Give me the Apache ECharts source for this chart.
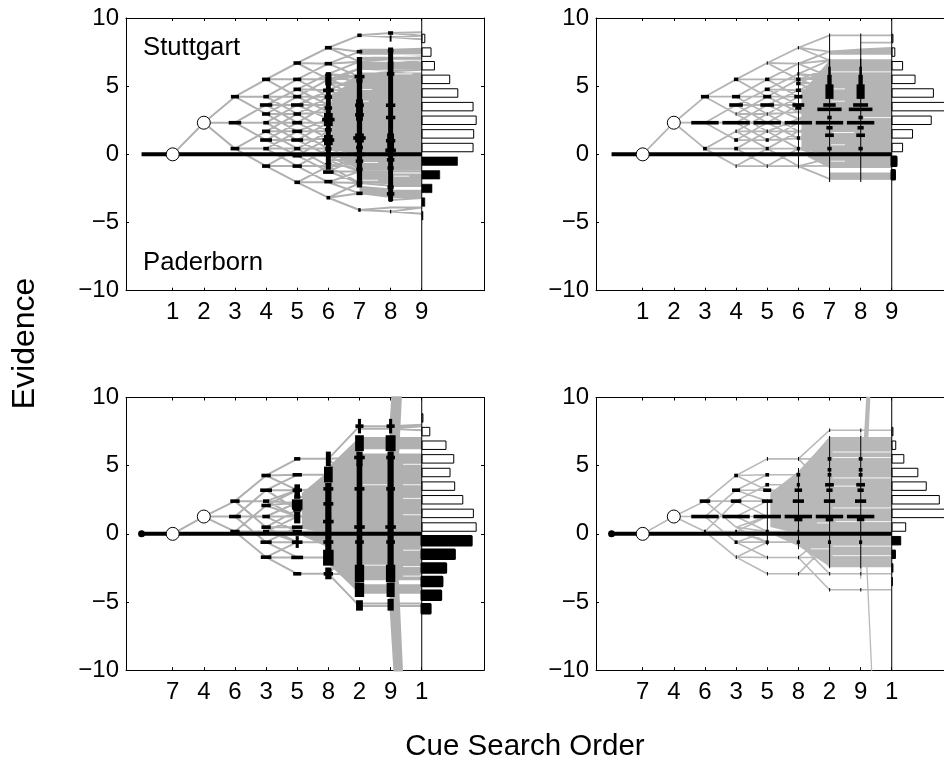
<!DOCTYPE html>
<html><head><meta charset="utf-8">
<style>html,body{margin:0;padding:0;background:#fff;overflow:hidden}#c{width:944px;height:762px}</style>
<script src="https://cdn.jsdelivr.net/npm/echarts@6/dist/echarts.min.js"></script>
</head><body><div id="c"></div>
<script>
const topTicks = ['1','2','3','4','5','6','7','8','9'];
const bottomTicks = ['7','4','6','3','5','8','2','9','1'];
const yTicks = [-10,-5,0,5,10];

// cue shift between successive columns (index = from-column)
const topShifts = [0,2.32,1.9,1.28,1.2,1.15,0.9,0.2,0.15];
const bottomShifts = [0,1.27,1.13,1.9,1.2,0.1,2.4,0.1,0.1];

// evidence levels per search column (1..9)
const tlLevels = [[0],[2.32],[4.23,2.32,.42],
 [5.5,4.23,3.62,2.96,2.32,1.69,1.05,.42,-.86],
 [6.7,5.5,4.77,4.23,3.62,2.96,2.32,1.69,1.05,.42,-.1,-.86,-2.05],
 [7.82,6.65,5.9,5.5,5.2,4.7,4.23,3.62,3.1,2.6,2.32,1.69,1.17,.42,-.1,-.45,-.86,-1.25,-2.05,-3.18],
 [8.73,7.53,6.8,6.3,5.7,5.2,4.7,4.23,3.62,3,2.32,1.69,1.1,.42,-.3,-.7,-1.25,-2.1,-2.86,-4.08],
 [8.9,8.6,7.65,7.4,7,6.6,6.1,5.7,5.2,4.7,4.23,3.62,3,2.32,1.69,1.1,.42,-.3,-.7,-1.25,-1.9,-2.3,-2.9,-3.35,-3.9,-4.2],
 [8.95,8.7,8.45,7.75,7.5,7.3,7.1,6.9,6.6,6.2,5.7,5.2,4.7,4.23,3.62,3,2.32,1.69,1.1,.42,-.3,-.7,-1.25,-1.9,-2.3,-2.9,-3.2,-3.9,-4.35]];
const trLevels = [[0],[2.32],[4.23,2.32,.42],
 [5.5,4.23,3.62,2.96,2.32,1.69,1.05,.42,-.86],
 [6.7,5.5,4.77,4.23,3.62,2.96,2.32,1.69,1.05,.42,-.86],
 [7.82,6.65,5.9,5.5,5.2,4.7,4.23,3.62,3.1,2.6,2.32,1.69,1.17,.42,-.86],
 [8.73,7.53,6.9,6.3,5.7,5.2,4.7,4.23,3.62,3,2.32,1.69,1.1,.42,-.3,-.85,-1.4,-1.8],
 [8.73,8.2,7.7,7.45,6.9,6.3,5.7,5.2,4.7,4.23,3.62,3,2.32,1.69,1.1,.42,-.3,-.85,-1.4,-1.8],
 [8.73,8.2,7.8,7.5,6.9,6.3,5.7,5.2,4.7,4.23,3.62,3,2.32,1.69,1.1,.42,-.3,-.85,-1.4,-1.8]];
const blLevels = [[0],[1.27],[2.4,1.27,.17],
 [4.28,3.2,2.4,2.08,1.27,.49,.17,-.61,-1.71],
 [5.5,4.33,3.2,2.7,2.3,1.76,1.27,.49,.17,-.61,-1.73,-2.93],
 [5.5,4.33,3.3,2.7,2.2,1.7,1.27,.5,.17,-.6,-1,-1.73,-2.93],
 [7.9,7.7,6.7,6.4,5.6,4.9,4.3,3.3,2.7,1.7,1.2,.5,-.2,-.6,-1,-1.7,-2.3,-3,-4.1,-5.3,-5.1],
 [7.9,7.7,6.7,6.4,5.6,4.9,4.3,3.3,2.7,1.7,1.2,.5,-.2,-.6,-1,-1.7,-2.3,-3,-4.1,-5.3,-5.1],
 [8,7.9,7.6,6.7,6.4,5.6,4.9,4.3,3.3,2.7,1.7,1.2,.5,-.2,-.6,-1,-1.7,-2.3,-3,-4.1,-5.3,-5.1]];
const brLevels = [[0],[1.27],[2.4,1.27,.17],
 [4.28,3.2,2.4,1.27,.49,.17,-.61,-1.71],
 [5.5,4.33,3.6,3.2,2.4,1.27,.17,-.61,-1.73,-2.93],
 [5.5,4.33,3.6,3.2,2.4,1.27,.17,-.61,-1.73,-2.93],
 [7.6,7.05,6.2,5.5,4.33,3.6,3.2,2.4,1.27,.17,-.61,-1.73,-2.4,-2.93,-4.1],
 [7.6,7.05,6.2,5.5,4.33,3.6,3.2,2.4,1.27,.17,-.61,-1.73,-2.4,-2.93,-4.1],
 [7.6,7.05,6.2,5.5,4.33,3.6,3.2,2.4,1.27,.17,-.61,-1.73,-2.4,-2.93,-4.1]];

// cues at column 8 with a decisive jump (sources of lines to +/-jumpSize)
const jumpSize = 42;
const blJumpUp = [-5.3,-4.9,-4.5,-4.1,-3.7,-3.3,-2.9,-2.5,-2.1,-1.7,-1.3,-.9,-.5,-.1,.3,.7,1.1,1.5,1.9,2.3,2.7,3.1,3.5,3.9,4.3,4.7,5.1,5.5,5.9,6.3,6.7,7.1,7.5,7.9];
const blJumpDown = blJumpUp;
const trJump = [];
const brJumpUp = [-3.3,-2.7,-2.1,-1.5,-.9,-.3,.3,.9,1.5,2];
const brJumpDown = [7.55];

// solid grey regions: from-column, top, bottom, to-column, top, bottom
const tlFill = [[6.1,4.2,.3,7,5.9,0],[7,6,0,9,6,0],[7,7.75,7.3,9,7.75,7.3],[7,7.15,6.9,9,7.15,6.9],[7,6.8,6.2,9,6.8,6.2],
 [6.3,-.1,-.2,7,0,-1.2],[7,0,-1.2,9,0,-1.2],[7,-1.3,-2.1,8,-1.3,-2.2],[8,-1.4,-2.4,9,-1.4,-2.4],[8,-2.6,-3.2,9,-2.6,-3.2],[7,-2.3,-2.9,8,-2.5,-3.2]];
const trFill = [[6.1,4.5,.3,7,6.9,0],[7,6.9,0,9,6.9,0],[7,7.6,7.3,9,7.8,7.3],[6.3,-.1,-.2,7,0,-1],[7,0,-1,9,0,-1],[7,-1.45,-1.85,9,-1.45,-1.85]];
const blFill = [[5.15,3,.4,6,4.6,0],[5.2,-.1,-.2,6,0,-1],[6,4.9,-2.2,7,7.1,-4.4],[7,7.1,6.2,9,7.1,6.2],[7,5.9,-3.4,9,5.9,-3.4],[7,-3.7,-4.4,9,-3.7,-4.4]];
const brFill = [[5.1,3,.5,6,4.6,0],[6,4.6,0,7,7.05,0],[7,7.05,0,9,7.05,0],[5.3,-.1,-.2,6,0,-.9],[6,0,-.9,7,0,-2.4],[7,0,-2.4,9,0,-2.4]];

// thin light streaks left between the grey lines: from-column, to-column, level
const tlSlits = [[7.05,7.4,7.2],[7.05,7.4,6.13],[7.05,7.4,4.76],[7.05,7.3,3.9],[8.1,9,7.3],[8.1,9,6.9],[7.05,8,6.13],[8.1,8.7,5.9],[7.1,7.6,-.6],[7.1,7.6,-1.9],[8.1,8.6,-1.6],[8.1,8.7,-2.5]];
const trSlits = [[7.05,9,6.05],[7.05,7.5,4.8],[7.05,7.5,3.9],[8.1,9,2.7],[7.1,7.8,1.6],[7.05,7.5,.7],[7.05,7.5,-.5]];
const blSlits = [[7.1,7.9,6],[8.4,9,5.1],[8.4,9,3.6],[7.1,7.9,3.6],[8.4,9,2.6],[8.4,9,1.4],[7.1,7.9,-2.3],[8.4,9,-1.2],[8.4,9,-2.4],[8.4,9,-3.1]];
const brSlits = [[7.1,9,6],[7.1,9,5.6],[7.1,9,4.1],[7.1,8,3.5],[7.1,9,1.9],[6.6,7,.8],[7.2,9,.9],[6.4,7,-1.1],[7.1,9,-.9],[7.1,9,-1.6]];

// node shares: column, y top, y bottom, half width in column units
const tlMarks = [[3,4.23,4.23,.13],[3,2.32,2.32,.2],[3,.42,.42,.14],
 [4,5.5,5.5,.13],[4,4.23,4.23,.09],[4,3.62,3.62,.2],[4,2.96,2.96,.13],[4,2.32,2.32,.09],[4,1.69,1.69,.13],[4,1.05,1.05,.19],[4,.42,.42,.09],[4,-.86,-.86,.13],
 [5,6.7,6.7,.12],[5,5.5,5.5,.13],[5,4.77,4.77,.12],[5,4.23,4.23,.13],[5,3.62,3.62,.2],[5,2.96,2.96,.12],[5,2.32,2.32,.16],[5,1.69,1.69,.16],[5,1.05,1.05,.19],[5,.42,.42,.1],[5,-.1,-.1,.15],[5,-.86,-.86,.15],[5,-2.05,-2.05,.09],
 [6,7.82,7.82,.11],[6,6.65,6.65,.12],[6,5.9,-1,.08],[6,5.8,5.2,.1],[6,4.7,4.7,.17],[6,4.2,4.2,.12],[6,3.4,3.4,.12],[6,2.9,2.2,.14],[6,2.55,2.55,.2],[6,1.8,1.8,.11],[6,1.3,.8,.14],[6,1.05,1.05,.19],[6,.4,.4,.1],[6,0,0,.14],[6,-.85,-.5,.1],[6,-1.3,-1.3,.17],[6,-2,-2,.13],[6,-3.18,-3.18,.06],
 [7,8.73,8.73,.07],[7,7.53,7.53,.09],[7,7,-2.3,.085],[7,5.7,5.7,.16],[7,5.4,5.4,.1],[7,3.9,2.6,.11],[7,3.6,3.6,.14],[7,2.9,2.9,.14],[7,1.4,1,.14],[7,1.2,1.2,.2],[7,.5,.5,.11],[7,0,0,.16],[7,-.5,-.5,.12],[7,-1.1,-1.1,.1],[7,-2.1,-2.1,.09],[7,-2.86,-2.86,.1],[7,-4.08,-4.08,.04],
 [8,8.9,8.9,.08],[8,8.6,8.4,.03],[8,7.7,-3.3,.08],[8,7.6,7.6,.09],[8,6.7,6.2,.09],[8,5.9,5.9,.12],[8,3.6,3.6,.15],[8,2.7,2.7,.15],[8,1.4,.4,.11],[8,1,1,.15],[8,.3,.3,.17],[8,0,0,.17],[8,-.4,-.4,.12],[8,-1,-1,.1],[8,-2.4,-2.4,.1],[8,-2.9,-2.9,.12],[8,-3.35,-3.35,.05],[8,-4.2,-4.2,.02]];
const trMarks = [[3,4.23,4.23,.13],[3,2.32,2.32,.44],[3,.42,.42,.06],
 [4,5.5,5.5,.07],[4,4.23,4.23,.13],[4,3.62,3.62,.22],[4,2.96,2.96,.015],[4,2.32,2.32,.44],[4,1.69,1.69,.02],[4,1.05,1.05,.06],[4,.42,.42,.06],[4,-.86,-.86,.015],
 [5,6.7,6.7,.015],[5,5.5,5.5,.07],[5,4.77,4.77,.08],[5,4.23,4.23,.13],[5,3.62,3.62,.22],[5,2.96,2.96,.015],[5,2.32,2.32,.44],[5,1.69,1.69,.02],[5,1.05,1.05,.05],[5,.42,.42,.05],[5,-.86,-.86,.015],
 [6,7.82,7.82,.015],[6,6.65,-.9,.012],[6,5.9,5.9,.03],[6,5.5,5.5,.07],[6,5.2,5.2,.07],[6,4.7,4.7,.08],[6,4.23,4.23,.13],[6,3.62,3.62,.19],[6,3.4,3.4,.1],[6,2.32,2.32,.44],[6,1.2,1.2,.05],[6,.42,.42,.05],
 [7,8.73,-1.9,.012],[7,6.9,6.3,.02],[7,6.3,5.7,.04],[7,5.7,5,.07],[7,5,4.2,.13],[7,3.62,3.62,.2],[7,3.3,3.3,.39],[7,2.7,2.7,.07],[7,2.32,2.32,.44],[7,1.95,1.95,.1],[7,1.4,1.4,.14],[7,.42,.42,.07],
 [8,8.73,-1.9,.012],[8,6.9,6.3,.02],[8,6.3,5.7,.04],[8,5.7,5,.07],[8,5,4.2,.13],[8,3.62,3.62,.24],[8,3.3,3.3,.38],[8,2.7,2.7,.07],[8,2.32,2.32,.44],[8,1.95,1.95,.1],[8,1.4,1.4,.14],[8,.42,.42,.07]];
const blMarks = [[3,2.4,2.4,.15],[3,1.27,1.27,.19],[3,.17,.17,.15],
 [4,4.28,4.28,.15],[4,3.2,3.2,.19],[4,2.4,2.4,.1],[4,2.08,2.08,.15],[4,1.27,1.27,.12],[4,.49,.49,.15],[4,.17,.17,.1],[4,-.61,-.61,.18],[4,-1.71,-1.71,.17],
 [5,5.5,5.5,.1],[5,4.33,4.33,.15],[5,3.5,2.9,.09],[5,3.2,3.2,.15],[5,2.7,2.7,.1],[5,2.4,1.9,.17],[5,1.76,1.76,.13],[5,1.5,.9,.1],[5,.49,.49,.17],[5,.17,.17,.15],[5,-.3,-.9,.05],[5,-.61,-.61,.17],[5,-1.73,-1.73,.19],[5,-2.93,-2.93,.13],
 [6,5.9,5.1,.08],[6,4.8,3.9,.14],[6,3.6,-1.1,.1],[6,3.3,3.3,.16],[6,2.2,2.2,.16],[6,.9,.9,.17],[6,-.6,-.6,.16],[6,-1.3,-2.2,.17],[6,-2.6,-3.2,.1],[6,-2.93,-2.93,.15],
 [7,8.3,7.5,.05],[7,7.9,7.9,.13],[7,7.1,6.2,.14],[7,5.9,5.1,.1],[7,5.6,5.6,.17],[7,5,-3.2,.09],[7,3.3,3.3,.16],[7,.5,.5,.17],[7,-.6,-.6,.14],[7,-2.4,-3.4,.15],[7,-3.7,-4.5,.15],[7,-5,-5.5,.11],
 [8,8.3,7.5,.05],[8,7.9,7.9,.13],[8,7.1,6.2,.16],[8,5.9,-3.2,.1],[8,5.6,5.6,.14],[8,3.3,3.3,.14],[8,.5,.5,.17],[8,-.6,-.6,.14],[8,-2.4,-3.4,.15],[8,-3.7,-4.5,.13],[8,-4.9,-5.5,.1]];
const brMarks = [[3,2.4,2.4,.17],[3,1.27,1.27,.44],[3,.17,.17,.03],
 [4,4.28,4.28,.06],[4,3.2,3.2,.13],[4,2.4,2.4,.17],[4,1.27,1.27,.44],[4,.17,.17,.03],[4,-.61,-.61,.05],[4,-1.71,-1.71,.01],
 [5,5.5,5.5,.01],[5,4.33,4.33,.06],[5,3.6,3.6,.06],[5,3.2,3.2,.13],[5,2.4,2.4,.17],[5,1.27,1.27,.44],[5,2.4,-.7,.012],[5,.17,.17,.05],[5,-.61,-.61,.05],[5,-1.73,-1.73,.01],[5,-2.93,-2.93,.01],
 [6,5.5,5.5,.01],[6,4.7,-1,.012],[6,4.33,4.33,.06],[6,3.6,3.6,.05],[6,3.2,3.2,.12],[6,2.4,2.4,.18],[6,1.27,1.27,.44],[6,1.05,1.05,.13],[6,.17,.17,.03],[6,-.61,-.61,.05],[6,-1.73,-1.73,.01],[6,-2.93,-2.93,.01],
 [7,7.6,7.6,.01],[7,7.05,-2.4,.012],[7,5.5,5.5,.06],[7,4.7,4.7,.06],[7,4.33,4.33,.06],[7,3.6,3.6,.14],[7,3.2,3.2,.1],[7,2.4,2.4,.18],[7,1.27,1.27,.44],[7,1.05,1.05,.12],[7,-.61,-.61,.05],[7,-2.93,-2.93,.01],[7,-4.1,-4.1,.01],
 [8,7.6,7.6,.01],[8,7.05,-2.4,.012],[8,5.5,5.5,.06],[8,4.7,4.7,.06],[8,4.33,4.33,.06],[8,3.6,3.6,.14],[8,3.2,3.2,.1],[8,2.4,2.4,.18],[8,1.27,1.27,.44],[8,1.05,1.05,.12],[8,-.61,-.61,.05],[8,-2.93,-2.93,.01],[8,-4.1,-4.1,.01]];

// outcome histograms: bin centre, bar length
const tlWins = [[8.5,.09],[7.5,.29],[6.5,.4],[5.5,.89],[4.5,1.15],[3.5,1.64],[2.5,1.74],[1.5,1.66],[.5,1.64]];
const tlLosses = [[-.5,1.14],[-1.5,.57],[-2.5,.32],[-3.5,.09],[-4.5,.03]];
const trWins = [[8.5,.03],[7.5,.09],[6.5,.34],[5.5,.74],[4.5,1.33],[3.5,2],[2.5,1.26],[1.5,.66],[.5,.34]];
const trLosses = [[-.5,.13],[-1.5,.08]];
const blWins = [[8.5,.03],[7.5,.25],[6.5,.77],[5.5,1.02],[4.5,.9],[3.5,1.05],[2.5,1.31],[1.5,1.65],[.5,1.74]];
const blLosses = [[-.5,1.58],[-1.5,1.04],[-2.5,.76],[-3.5,.64],[-4.5,.6],[-5.5,.26]];
const brWins = [[7.5,.03],[6.5,.12],[5.5,.38],[4.5,.83],[3.5,1.1],[2.5,1.52],[1.5,2],[.5,.44]];
const brLosses = [[-.5,.28],[-1.5,.11],[-2.5,.03],[-3.5,.01]];

const panels = [
 {left:126,top:18,ticks:topTicks,levels:tlLevels,shifts:topShifts,fill:tlFill,slits:tlSlits,marks:tlMarks,wins:tlWins,losses:tlLosses,up:[],down:[],gray:'#b0b0b0',lw:2,second:2.32,dot:false,heavy:.6,jw:1.5},
 {left:596,top:18,ticks:topTicks,levels:trLevels,shifts:topShifts,fill:trFill,slits:trSlits,marks:trMarks,wins:trWins,losses:trLosses,up:trJump,down:trJump,gray:'#b4b4b4',lw:1.8,second:2.32,dot:false,heavy:3,jw:1.5},
 {left:126,top:397.5,ticks:bottomTicks,levels:blLevels,shifts:bottomShifts,fill:blFill,slits:blSlits,marks:blMarks,wins:blWins,losses:blLosses,up:blJumpUp,down:blJumpDown,gray:'#b0b0b0',lw:2,second:1.27,dot:true,heavy:3,jw:2.4},
 {left:596,top:397.5,ticks:bottomTicks,levels:brLevels,shifts:bottomShifts,fill:brFill,slits:brSlits,marks:brMarks,wins:brWins,losses:brLosses,up:brJumpUp,down:brJumpDown,gray:'#b8b8b8',lw:1.6,second:1.27,dot:true,heavy:1,jw:1.3}
];

function nearest(list, v){
  let best=null,bd=1e9;
  for(const x of list){const d=Math.abs(x-v); if(d<bd){bd=d;best=x;}}
  return bd<=0.5?best:null;
}
function buildLinks(p){
  const out=[];
  for(let c=1;c<=8;c++){
    const next=p.levels[c], s=p.shifts[c];
    for(const a of p.levels[c-1]){
      const seen=new Set();
      for(const d of [s,0,-s]){
        const t=nearest(next,a+d);
        if(t===null||seen.has(t))continue;
        seen.add(t);
        out.push([c,a],[c+1,t],['-','-']);
      }
    }
  }
  return out;
}
function buildJumps(p){
  const out=[];
  for(const a of p.up) out.push([8,a],[9,jumpSize],['-','-']);
  for(const a of p.down) out.push([8,a],[9,-jumpSize],['-','-']);
  return out;
}
function buildSlits(p){
  const out=[];
  for(const s of p.slits) out.push([s[0],s[2]],[s[1],s[2]],['-','-']);
  return out;
}

const BLACK='#000';
const FONT='"Liberation Sans",Arial,sans-serif';
const grids=[],xAxes=[],yAxes=[],series=[];
const baseFont={color:BLACK,fontFamily:FONT,fontSize:24};
const tickVals=[1,2,3,4,5,6,7,8,9];
panels.forEach((p,i)=>{
  grids.push({left:p.left,top:p.top,width:358,height:272.7,show:false,outerBoundsMode:'none'});
  const line={show:true,onZero:false,lineStyle:{color:BLACK,width:1}};
  xAxes.push({gridIndex:i,type:'value',position:'bottom',min:-.5,max:11,axisLine:line,splitLine:{show:false},
    axisTick:{show:true,inside:true,length:3,customValues:tickVals,lineStyle:{color:BLACK,width:1}},
    axisLabel:{show:true,margin:10,customValues:tickVals,...baseFont,formatter:v=>p.ticks[v-1]}});
  xAxes.push({gridIndex:i,type:'value',position:'top',min:-.5,max:11,axisLine:line,splitLine:{show:false},
    axisTick:{show:true,inside:true,length:3,customValues:tickVals,lineStyle:{color:BLACK,width:1}},
    axisLabel:{show:false}});
  yAxes.push({gridIndex:i,type:'value',position:'left',min:-10,max:10,interval:5,axisLine:line,splitLine:{show:false},
    axisTick:{show:true,inside:true,length:3,lineStyle:{color:BLACK,width:1}},
    axisLabel:{show:true,margin:7,...baseFont,customValues:yTicks,formatter:v=>v<0?'\u2212'+(-v):''+v}});
  yAxes.push({gridIndex:i,type:'value',position:'right',min:-10,max:10,interval:5,axisLine:line,splitLine:{show:false},
    axisTick:{show:true,inside:true,length:3,lineStyle:{color:BLACK,width:1}},axisLabel:{show:false}});
  const xi=i*2,yi=i*2;
  const common={xAxisIndex:xi,yAxisIndex:yi,silent:true,animation:false};
  series.push({...common,type:'custom',z:2,clip:true,data:p.fill,renderItem:(ps,api)=>{
    const a=api.coord([api.value(0),api.value(1)]),b=api.coord([api.value(3),api.value(4)]),
          c=api.coord([api.value(3),api.value(5)]),d=api.coord([api.value(0),api.value(2)]);
    return {type:'polygon',shape:{points:[a,b,c,d]},style:{fill:p.gray}};
  }});
  series.push({...common,type:'line',z:3,data:buildLinks(p),showSymbol:false,symbol:'none',connectNulls:false,lineStyle:{color:p.gray,width:p.lw}});
  series.push({...common,type:'line',z:3,data:buildJumps(p),showSymbol:false,symbol:'none',connectNulls:false,lineStyle:{color:p.gray,width:p.jw}});
  series.push({...common,type:'line',z:4,data:buildSlits(p),showSymbol:false,symbol:'none',connectNulls:false,lineStyle:{color:'#fff',width:1,opacity:.85}});
  const hist=(data,fill,lw)=>({...common,type:'custom',z:5,clip:false,data,renderItem:(ps,api)=>{
    const y=api.value(0),l=api.value(1);
    const a=api.coord([9,y+.31]),b=api.coord([9+l,y-.31]);
    return {type:'rect',shape:{x:Math.round(a[0]),y:a[1],width:b[0]-a[0],height:b[1]-a[1]},
      style:{fill,stroke:BLACK,lineWidth:lw,lineJoin:'round'}};
  }});
  series.push(hist(p.wins,'#fff',1));
  series.push(hist(p.losses,BLACK,p.heavy));
  series.push({...common,type:'line',z:6,data:[[0,0],[9,0]],symbol:'none',lineStyle:{color:BLACK,width:4,cap:'butt'}});
  series.push({...common,type:'line',z:6,data:[[9,-10],[9,10]],symbol:'none',lineStyle:{color:BLACK,width:1}});
  series.push({...common,type:'custom',z:7,clip:false,data:p.marks,renderItem:(ps,api)=>{
    const c=api.value(0),y1=api.value(1),y2=api.value(2),w=api.value(3);
    const a=api.coord([c-w,y1]),b=api.coord([c+w,y2]);
    return {type:'rect',shape:{x:a[0],y:a[1]-1.8,width:Math.max(1,b[0]-a[0]),height:b[1]-a[1]+3.6},style:{fill:BLACK}};
  }});
  const pts=[[1,0],[2,p.second]];
  series.push({...common,type:'scatter',z:8,data:pts,symbol:'circle',symbolSize:13,itemStyle:{color:'#fff',borderColor:BLACK,borderWidth:1,opacity:1}});
  if(p.dot) series.push({...common,type:'scatter',z:8,data:[[0,0]],symbol:'circle',symbolSize:7,itemStyle:{color:BLACK,opacity:1}});
});

const chart=echarts.init(document.getElementById('c'),null,{renderer:'canvas',width:944,height:762});
chart.setOption({animation:false,backgroundColor:'#fff',grid:grids,xAxis:xAxes,yAxis:yAxes,series,
 graphic:[
  {type:'text',left:143,top:35,silent:true,style:{text:'Stuttgart',fontSize:25.7,fontFamily:FONT,fill:BLACK}},
  {type:'text',left:143,top:250,silent:true,style:{text:'Paderborn',fontSize:25.7,fontFamily:FONT,fill:BLACK}},
  {type:'text',x:25,y:343.5,rotation:Math.PI/2,silent:true,style:{text:'Evidence',fontSize:32,fontFamily:FONT,fill:BLACK,align:'center',verticalAlign:'middle'}},
  {type:'text',x:525,y:747,silent:true,style:{text:'Cue Search Order',fontSize:29.5,fontFamily:FONT,fill:BLACK,align:'center',verticalAlign:'middle'}}
 ]});
</script></body></html>
